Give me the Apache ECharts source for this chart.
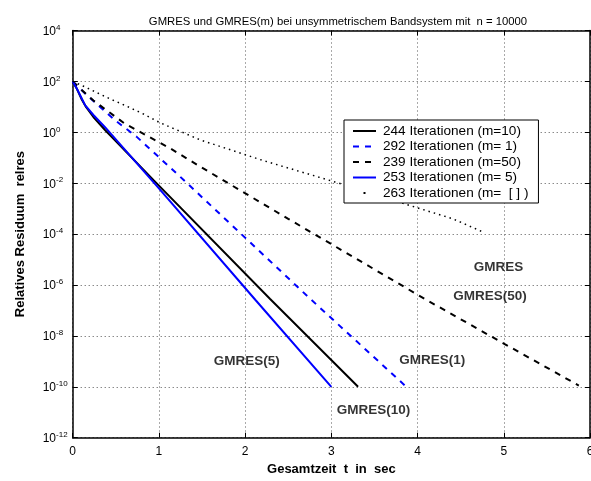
<!DOCTYPE html>
<html>
<head>
<meta charset="utf-8">
<script src="https://cdn.jsdelivr.net/npm/echarts@6/dist/echarts.min.js"></script>
<style>
  html, body { margin: 0; padding: 0; background: #fff; }
  #root { width: 591px; height: 481px; }
</style>
</head>
<body>
<div id="root"></div>
<script>
// Zeit in sec und Exponent des Residuums (relres = 10^e)
var t10 = [0, 0.05, 0.1, 0.15, 0.24, 0.375, 0.935, 2.29, 3.31];
var e10 = [2, 1.7, 1.32, 1.02, 0.6, 0.09, -1.87, -6.55, -10];

var t1 = [0, 0.12, 0.3, 0.5, 0.74, 1.245, 2.77, 3.87];
var e1 = [2, 1.6, 1.05, 0.45, -0.17, -1.74, -6.59, -10];

var t50 = [0, 0.1, 0.24, 0.6, 1.13, 1.48, 2.5, 4.09, 5.0, 5.87];
var e50 = [2, 1.68, 1.25, 0.35, -0.63, -1.35, -3.4, -6.56, -8.3, -9.95];

var t5 = [0, 0.046, 0.104, 0.143, 0.24, 0.375, 1.0, 2.12, 3.0];
var e5 = [2, 1.73, 1.34, 1.07, 0.68, 0.2, -2.2, -6.59, -10];

var tFull = [0, 0.12, 0.28, 0.43, 0.63, 0.82, 1.01, 1.48, 2.2, 3.04, 3.83, 4.41, 4.78];
var eFull = [2, 1.82, 1.56, 1.32, 1.02, 0.72, 0.38, -0.3, -1.1, -1.95, -2.79, -3.4, -3.95];

var legendNames = [
  '244 Iterationen (m=10)',
  '292 Iterationen (m= 1)',
  '239 Iterationen (m=50)',
  '253 Iterationen (m= 5)',
  '263 Iterationen (m=  [ ] )'
];

// Beschriftungen im Plot
var annotText = ['GMRES', 'GMRES(50)', 'GMRES(5)', 'GMRES(1)', 'GMRES(10)'];
var annotT = [4.94, 4.84, 2.02, 4.17, 3.49];
var annotE = [-5.29, -6.46, -9.0, -8.95, -10.94];

var xTicks = [0, 6, 1];   // min, max, interval
var yTicks = [-12, 4, 2];

var FONT = 'Liberation Sans, Arial, Helvetica, sans-serif';

function pairs(a, b) {
  return a.map(function (v, i) { return [v, b[i]]; });
}

var dom = document.getElementById('root');
var myChart = echarts.init(dom, null, { renderer: 'canvas' });

var gridLine = { show: true, lineStyle: { color: '#555', type: [1, 3], width: 1 } };
var frame = { show: true, onZero: false, lineStyle: { color: '#000', width: 1.5 } };
var tickIn = { show: true, inside: true, length: 5, lineStyle: { color: '#000', width: 1 } };

var option = {
  animation: false,
  backgroundColor: '#fff',
  textStyle: { fontFamily: FONT },
  title: {
    text: 'GMRES und GMRES(m) bei unsymmetrischem Bandsystem mit  n = 10000',
    left: 333,
    top: 11,
    textAlign: 'center',
    textStyle: { fontSize: 11.3, fontWeight: 'normal', color: '#000', fontFamily: FONT }
  },
  grid: {
    left: 72.7, right: 1, top: 30.5, bottom: 43.3,
    containLabel: false, outerBoundsMode: 'none'
  },
  legend: {
    data: legendNames.map(function (n, i) {
      // letzte Zeile: nur ein Punkt als Symbol
      return i === 4
        ? { name: n, lineStyle: { type: [2, 100], dashOffset: -10.5, width: 2 } }
        : { name: n };
    }),
    orient: 'vertical',
    left: 344,
    top: 120,
    backgroundColor: '#fff',
    borderColor: '#000',
    borderWidth: 1,
    borderRadius: 0,
    padding: [4, 10, 3, 8],
    itemWidth: 23,
    itemHeight: 12,
    itemGap: 1.5,
    itemStyle: { opacity: 0 },
    textStyle: { fontSize: 13.6, color: '#000', fontFamily: FONT, padding: [0, 0, 0, 2] }
  },
  xAxis: [
    {
      type: 'value', min: xTicks[0], max: xTicks[1], interval: xTicks[2],
      position: 'bottom',
      axisLine: frame, axisTick: tickIn, splitLine: gridLine,
      axisLabel: { color: '#000', fontSize: 12, margin: 8, fontFamily: FONT },
      name: 'Gesamtzeit  t  in  sec',
      nameLocation: 'middle',
      nameGap: 20,
      nameTextStyle: { color: '#000', fontSize: 13, fontWeight: 'bold', fontFamily: FONT }
    },
    {
      type: 'value', min: xTicks[0], max: xTicks[1], interval: xTicks[2],
      position: 'top',
      axisLine: frame, axisTick: tickIn, splitLine: { show: false },
      axisLabel: { show: false }
    }
  ],
  yAxis: [
    {
      type: 'value', min: yTicks[0], max: yTicks[1], interval: yTicks[2],
      position: 'left',
      axisLine: frame, axisTick: tickIn, splitLine: gridLine,
      axisLabel: {
        align: 'left',
        margin: 30,
        formatter: function (v) { return '{b|10}{s|' + v + '}'; },
        rich: {
          b: { fontSize: 12, color: '#000', fontFamily: FONT, verticalAlign: 'bottom', lineHeight: 14 },
          s: { fontSize: 8, color: '#000', fontFamily: FONT, verticalAlign: 'top', lineHeight: 8 }
        }
      },
      name: 'Relatives Residuum  relres',
      nameLocation: 'middle',
      nameGap: 46,
      nameTextStyle: { color: '#000', fontSize: 13, fontWeight: 'bold', fontFamily: FONT }
    },
    {
      type: 'value', min: yTicks[0], max: yTicks[1], interval: yTicks[2],
      position: 'right',
      axisLine: frame, axisTick: tickIn, splitLine: { show: false },
      axisLabel: { show: false }
    }
  ],
  series: [
    {
      name: legendNames[0], type: 'line', data: pairs(t10, e10), showSymbol: false, symbol: 'none',
      lineStyle: { color: '#000', width: 2, type: 'solid' }, itemStyle: { color: '#000' }
    },
    {
      name: legendNames[1], type: 'line', data: pairs(t1, e1), showSymbol: false, symbol: 'none',
      lineStyle: { color: '#0000ff', width: 2, type: [6, 6] }, itemStyle: { color: '#0000ff' }
    },
    {
      name: legendNames[2], type: 'line', data: pairs(t50, e50), showSymbol: false, symbol: 'none',
      lineStyle: { color: '#000', width: 2, type: [6, 6] }, itemStyle: { color: '#000' }
    },
    {
      name: legendNames[3], type: 'line', data: pairs(t5, e5), showSymbol: false, symbol: 'none',
      lineStyle: { color: '#0000ff', width: 2, type: 'solid' }, itemStyle: { color: '#0000ff' }
    },
    {
      name: legendNames[4], type: 'line', data: pairs(tFull, eFull), showSymbol: false, symbol: 'none',
      lineStyle: { color: '#000', width: 1.5, type: [1.5, 4] }, itemStyle: { color: '#000' }
    },
    {
      type: 'scatter',
      symbolSize: 0,
      silent: true,
      data: annotT.map(function (v, i) { return { value: [v, annotE[i]], label: { formatter: annotText[i] } }; }),
      label: {
        show: true, position: 'inside',
        color: '#000', fontSize: 13.5, fontWeight: 'bold', fontFamily: FONT
      }
    }
  ]
};

myChart.setOption(option);
</script>
</body>
</html>
